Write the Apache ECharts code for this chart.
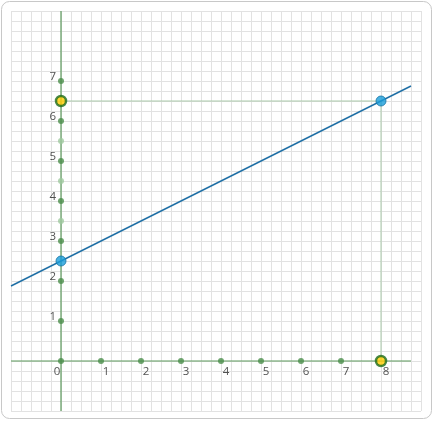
<!DOCTYPE html>
<html><head><meta charset="utf-8">
<script src="https://cdn.jsdelivr.net/npm/echarts@6/dist/echarts.min.js"></script>
<style>html,body{margin:0;padding:0;background:#fff}#c{width:434px;height:422px}</style>
</head><body><div id="c"></div>
<script>
const xTickLabels = [1,2,3,4,5,6,7,8];
const yTickLabels = [1,2,3,4,5,6,7];
const originLabel = [0];
const axisDotsX = [0,1,2,3,4,5,6,7];
const axisDotsY = [1,2,3,4,5,6,7];
const halfDotsY = [3.5,4.5,5.5];
const xAxisLine = [[-1.25,0],[8.75,0]];
const yAxisLine = [[0,-1.25],[0,8.75]];
const mainLine = [[-1.25,1.875],[8.75,6.875]];
const guideLine = [[0,6.5],[8,6.5],[8,0]];
const bluePoints = [[0,2.5],[8,6.5]];
const yellowPoints = [[0,6.5],[8,0]];

const FONT = "'Open Sans', 'DejaVu Sans', sans-serif";
const chart = echarts.init(document.getElementById('c'), null, {renderer:'canvas'});
chart.setOption({
  animation:false,
  backgroundColor:'#fff',
  graphic:[{type:'rect', shape:{x:1.5,y:1.5,width:430,height:417,r:8}, style:{fill:'none',stroke:'#c8c8c8',lineWidth:1}, z:-1}],
  grid:{left:11, top:11, width:410, height:400},
  xAxis:{type:'value', min:-1.25, max:9, interval:0.25,
    axisLine:{show:false}, axisTick:{show:false}, axisLabel:{show:false},
    splitLine:{show:true, lineStyle:{color:'#e2e2e2', width:1}}},
  yAxis:{type:'value', min:-1.25, max:8.75, interval:0.25,
    axisLine:{show:false}, axisTick:{show:false}, axisLabel:{show:false},
    splitLine:{show:true, lineStyle:{color:'#e2e2e2', width:1}}},
  series:[
    {type:'line', data:xAxisLine, symbol:'none', lineStyle:{color:'#5d9a5d', width:1.2}, z:2, silent:true},
    {type:'line', data:yAxisLine, symbol:'none', lineStyle:{color:'#5d9a5d', width:1.2}, z:2, silent:true},
    {type:'scatter', data:axisDotsX.map(v=>[v,0]), symbolSize:6, itemStyle:{color:'#4b8f4b'}, z:3},
    {type:'scatter', data:axisDotsY.map(v=>[0,v]), symbolSize:6, itemStyle:{color:'#4b8f4b'}, z:3},
    {type:'scatter', data:halfDotsY.map(v=>[0,v]), symbolSize:6, itemStyle:{color:'#9fc99f'}, z:3},
    {type:'scatter', data:xTickLabels.map(v=>[v,0]), symbolSize:0, z:4,
      label:{show:true, position:'bottom', distance:5, offset:[5,0], formatter:p=>String(p.value[0]), color:'#262626', fontSize:11.5, fontFamily:FONT}},
    {type:'scatter', data:yTickLabels.map(v=>[0,v]), symbolSize:0, z:4,
      label:{show:true, position:'left', distance:5, offset:[0,-4.5], formatter:p=>String(p.value[1]), color:'#262626', fontSize:11.5, fontFamily:FONT}},
    {type:'scatter', data:originLabel.map(v=>[v,v]), symbolSize:0, z:4,
      label:{show:true, position:'bottom', distance:5, offset:[-4,0], formatter:'0', color:'#262626', fontSize:11.5, fontFamily:FONT}},
    {type:'line', data:guideLine, symbol:'none', lineStyle:{color:'#abcaab', width:1}, z:5},
    {type:'line', data:mainLine, symbol:'none', lineStyle:{color:'#1f6fa5', width:1.5}, z:6},
    {type:'scatter', data:bluePoints, symbolSize:10, itemStyle:{color:'#1a9ed9', borderColor:'#1675a6', borderWidth:1}, z:7},
    {type:'scatter', data:yellowPoints, symbolSize:10, itemStyle:{color:'#ffcc00', borderColor:'#1b6b1b', borderWidth:2.5}, z:8}
  ]
});
</script></body></html>
